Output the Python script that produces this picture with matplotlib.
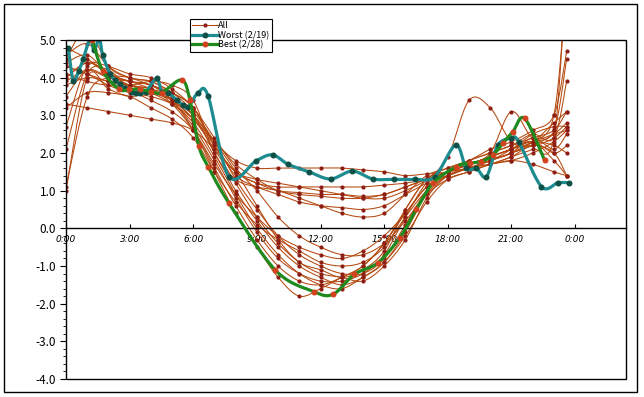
import numpy as np
import matplotlib
matplotlib.use('Agg')
import matplotlib.pyplot as plt
from matplotlib.lines import Line2D
from matplotlib.patches import Rectangle
from matplotlib.ticker import MultipleLocator

plt.rcParams['font.family'] = ['Noto Sans CJK JP', 'DejaVu Sans']
plt.rcParams['axes.unicode_minus'] = False

# shared hour grid for the "All" days
hours = [0, 1, 2, 3, 4, 5, 6, 7, 8, 9, 10, 11, 12, 13, 14, 15, 16, 17, 18, 19, 20, 21, 22, 23, 23.6]

day01 = [4.0, 4.4, 4.1, 3.9, 3.8, 3.5, 3.0, 2.3, 1.8, 1.6, 1.6, 1.6, 1.6, 1.6, 1.55, 1.5, 1.4, 1.45, 1.5, 1.7, 1.9, 2.1, 2.3, 2.2, 2.0]
day02 = [3.3, 3.2, 3.1, 3.0, 2.9, 2.8, 2.6, 2.1, 1.5, 1.2, 1.1, 1.1, 1.1, 1.1, 1.1, 1.15, 1.2, 1.3, 1.4, 1.6, 1.7, 1.8, 1.7, 1.5, 1.4]
day03 = [4.3, 4.1, 3.8, 3.6, 3.5, 3.3, 2.9, 2.3, 1.7, 1.3, 1.0, 0.9, 0.85, 0.8, 0.8, 0.9, 1.1, 1.3, 1.5, 1.6, 1.8, 2.0, 2.3, 3.0, 6.5]
day04 = [4.6, 4.9, 4.3, 4.0, 3.9, 3.6, 3.2, 2.2, 1.5, 1.3, 1.2, 1.1, 1.0, 0.9, 0.8, 0.8, 1.0, 1.3, 1.9, 3.4, 3.2, 2.3, 2.2, 2.4, 2.7]
day05 = [4.8, 4.5, 4.1, 4.0, 3.8, 3.6, 3.2, 2.2, 1.5, 1.2, 1.0, 0.95, 0.9, 0.9, 0.85, 0.9, 1.1, 1.3, 1.5, 1.7, 2.0, 3.1, 2.4, 2.5, 2.6]
day06 = [4.3, 4.1, 3.9, 3.8, 3.9, 3.8, 3.4, 2.0, 1.3, 1.1, 1.0, 0.8, 0.6, 0.4, 0.3, 0.4, 0.9, 1.4, 1.6, 1.8, 2.0, 2.2, 2.4, 2.6, 3.1]
day07 = [3.9, 4.2, 4.0, 3.9, 3.8, 3.4, 2.6, 1.5, 0.4, -0.5, -1.3, -1.8, -1.6, -1.3, -1.0, -0.4, 0.5, 1.3, 1.5, 1.6, 1.8, 2.0, 2.2, 2.5, 2.8]
day08 = [4.4, 4.6, 4.1, 3.9, 3.8, 3.4, 2.7, 1.8, 0.8, -0.1, -0.8, -1.2, -1.4, -1.4, -1.2, -0.7, 0.3, 1.2, 1.5, 1.7, 1.9, 2.1, 2.3, 2.0, 2.2]
day09 = [3.8, 4.0, 3.9, 3.8, 3.7, 3.5, 3.0, 2.0, 1.0, 0.2, -0.5, -1.0, -1.3, -1.5, -1.3, -0.9, -0.1, 0.9, 1.4, 1.6, 1.7, 1.9, 2.1, 2.4, 7.0]
day10 = [4.5, 5.3, 4.3, 4.0, 3.9, 3.6, 3.1, 2.3, 1.3, 0.5, -0.2, -0.7, -1.0, -1.2, -1.2, -0.8, 0.1, 1.0, 1.5, 1.8, 2.0, 2.2, 2.5, 2.4, 3.9]
day11 = [1.0, 4.0, 3.7, 3.5, 3.6, 3.4, 3.0, 2.3, 1.5, 0.6, -0.3, -0.9, -1.1, -1.3, -1.1, -0.6, 0.5, 1.3, 1.6, 1.8, 2.1, 2.3, 2.6, 3.0, 4.7]
day12 = [2.7, 4.3, 4.1, 3.8, 3.7, 3.3, 2.6, 1.6, 0.6, -0.3, -1.0, -1.4, -1.5, -1.3, -1.0, -0.4, 0.4, 1.1, 1.4, 1.6, 1.8, 2.0, 2.4, 2.1, 2.5]
day13 = [3.2, 3.6, 3.6, 3.5, 3.2, 2.9, 2.4, 1.5, 0.7, 0.1, -0.3, -0.6, -0.9, -1.0, -0.9, -0.5, 0.3, 1.0, 1.4, 1.6, 1.8, 2.0, 2.3, 2.6, 4.5]
day14 = [4.0, 4.4, 4.3, 4.1, 4.0, 3.7, 3.2, 2.4, 1.6, 1.0, 0.3, -0.2, -0.5, -0.7, -0.7, -0.4, 0.2, 0.9, 1.3, 1.5, 1.7, 1.8, 2.0, 2.3, 2.6]
day15 = [4.1, 3.9, 3.8, 3.8, 3.6, 3.3, 2.8, 1.9, 0.9, 0.0, -0.7, -1.2, -1.5, -1.6, -1.3, -0.9, -0.2, 0.7, 1.3, 1.5, 1.7, 1.9, 2.2, 2.0, 1.4]
day16 = [1.1, 3.5, 4.0, 3.9, 3.7, 3.4, 2.9, 2.1, 1.2, 0.3, -0.4, -0.9, -1.2, -1.3, -1.4, -1.0, -0.3, 0.8, 1.4, 1.6, 1.8, 2.1, 2.5, 2.7, 2.7]
day17 = [3.5, 4.2, 4.0, 3.8, 3.6, 3.4, 2.9, 2.2, 1.4, 1.1, 0.9, 0.7, 0.6, 0.55, 0.5, 0.6, 0.9, 1.2, 1.5, 1.7, 1.9, 2.1, 2.3, 1.8, 1.4]
day18 = [2.1, 4.1, 4.2, 3.7, 3.4, 3.1, 2.6, 1.7, 0.9, 0.3, -0.2, -0.5, -0.7, -0.8, -0.6, -0.2, 0.4, 1.1, 1.5, 1.7, 1.9, 2.1, 2.3, 2.8, 3.1]

all_days = [day01, day02, day03, day04, day05, day06, day07, day08, day09,
            day10, day11, day12, day13, day14, day15, day16, day17, day18]

worst_h = [0.11, 0.34, 0.60, 0.81, 1.13, 1.33, 1.57, 1.73, 2.07, 2.31, 2.54, 2.78, 3.09, 3.30,
           3.49, 3.77, 4.27, 4.51, 4.82, 5.21, 5.53, 5.76, 6.23, 6.70, 7.68, 8.98, 9.74, 10.47,
           11.46, 12.47, 13.49, 14.47, 15.45, 16.44, 17.38, 18.37, 18.87, 19.35, 19.82, 20.36,
           21.00, 21.34, 22.41, 23.19, 23.71]
worst_v = [4.79, 3.92, 4.18, 4.49, 5.02, 4.73, 5.04, 4.60, 4.11, 3.94, 3.83, 3.72, 3.63, 3.60,
           3.60, 3.63, 3.98, 3.63, 3.60, 3.41, 3.27, 3.21, 3.60, 3.51, 1.37, 1.80, 1.95, 1.70,
           1.50, 1.31, 1.52, 1.31, 1.30, 1.30, 1.37, 2.21, 1.59, 1.59, 1.37, 2.21,
           2.39, 2.30, 1.11, 1.21, 1.21]

best_h = [1.24, 1.73, 2.51, 2.98, 3.49, 3.99, 4.51, 5.45, 5.84, 6.26, 6.70, 7.69, 9.87, 11.68,
          12.59, 13.60, 14.71, 15.73, 16.52, 17.30, 18.40, 19.03, 19.58, 20.13, 20.60, 21.07,
          21.62, 22.56]
best_v = [5.00, 4.18, 3.69, 3.69, 3.69, 3.63, 3.60, 3.94, 3.41, 2.19, 1.64, 0.66, -1.11, -1.68,
          -1.75, -1.22, -0.91, -0.25, 0.51, 1.20, 1.64, 1.73, 1.77, 1.95, 2.26, 2.57,
          2.92, 1.81]

x_ticks = [0, 3, 6, 9, 12, 15, 18, 21, 24]
x_labels = ['0:00', '3:00', '6:00', '9:00', '12:00', '15:00', '18:00', '21:00', '0:00']

brown = '#B4480F'
brown_mk = '#8E1E14'
teal = '#1C8C90'
teal_mk = '#0E5045'
green = '#1E8A1E'
green_mk = '#D2421E'


def smooth(ax, xs, ys, n=16):
    # Excel-like smoothed line (bezier through the points, in screen space)
    pts = ax.transData.transform(np.column_stack([xs, ys]))
    p = np.vstack([pts[0], pts, pts[-1]])
    t = np.linspace(0, 1, n + 1)[1:, None]
    out = [pts[0]]
    for i in range(1, len(p) - 2):
        p0, p1, p2, p3 = p[i - 1], p[i], p[i + 1], p[i + 2]
        c1 = p1 + (p2 - p0) / 6
        c2 = p2 - (p3 - p1) / 6
        seg = (1 - t) ** 3 * p1 + 3 * (1 - t) ** 2 * t * c1 + 3 * (1 - t) * t ** 2 * c2 + t ** 3 * p2
        out.extend(seg)
    out = ax.transData.inverted().transform(np.array(out))
    return out[:, 0], out[:, 1]


fig = plt.figure(figsize=(6.44, 3.97), dpi=100)
ax = fig.add_axes([66 / 644, 1 - 379 / 397, (626 - 66) / 644, (379 - 40) / 397])
ax.set_xlim(0, 1.1)
ax.set_ylim(-4, 5)

for s in ax.spines.values():
    s.set_visible(False)
ax.add_patch(Rectangle((0, 0), 1, 1, transform=ax.transAxes, fill=False,
                       ec='black', lw=1.0, zorder=6, clip_on=False))
ax.spines['bottom'].set_visible(True)
ax.spines['bottom'].set_position(('data', 0))
ax.spines['bottom'].set_linewidth(1.0)

ax.set_xticks([h / 24 for h in x_ticks])
ax.set_xticklabels(x_labels, fontsize=6.5, style='italic', family='DejaVu Sans')
ax.tick_params(axis='x', direction='in', length=3, width=0.8, pad=5)

ax.yaxis.set_major_locator(MultipleLocator(1))
ax.yaxis.set_minor_locator(MultipleLocator(0.2))
ax.yaxis.set_major_formatter(plt.FuncFormatter(lambda v, p: '%.1f' % v))
ax.tick_params(axis='y', which='major', direction='out', length=4, width=0.8, pad=3, labelsize=8.5)
ax.tick_params(axis='y', which='minor', direction='out', length=2, width=0.6)

for vals in all_days:
    xs = [h / 24 for h in hours]
    sx, sy = smooth(ax, xs, vals)
    ax.plot(sx, sy, color=brown, lw=0.75, zorder=2)
    ax.plot(xs, vals, ls='none', marker='o', ms=2.0, mfc=brown_mk, mec=brown_mk, zorder=2)

wx = [h / 24 for h in worst_h]
sx, sy = smooth(ax, wx, worst_v)
ax.plot(sx, sy, color=teal, lw=2.3, zorder=3)
ax.plot(wx, worst_v, ls='none', marker='o', ms=3.3, mfc=teal_mk, mec=teal_mk, zorder=3)

bx = [h / 24 for h in best_h]
sx, sy = smooth(ax, bx, best_v)
ax.plot(sx, sy, color=green, lw=2.3, zorder=4)
ax.plot(bx, best_v, ls='none', marker='o', ms=3.3, mfc=green_mk, mec=green_mk, zorder=4)

handles = [
    Line2D([], [], color=brown, lw=0.75, marker='o', ms=2.0, mfc=brown_mk, mec=brown_mk),
    Line2D([], [], color=teal, lw=2.3, marker='o', ms=3.3, mfc=teal_mk, mec=teal_mk),
    Line2D([], [], color=green, lw=2.3, marker='o', ms=3.3, mfc=green_mk, mec=green_mk),
]
leg = fig.legend(handles, ['All', 'Worst (2/19)', 'Best (2/28)'], loc='upper left',
                 bbox_to_anchor=(190 / 644, 1 - 19 / 397), fontsize=6.5, numpoints=1,
                 handlelength=2.8, handletextpad=0.1, borderpad=0.25, labelspacing=0.05,
                 fancybox=False, framealpha=1, edgecolor='black', borderaxespad=0)
leg.get_frame().set_linewidth(0.8)
leg.set_zorder(10)

# outer chart border
fig.patches.append(Rectangle((4 / 644, 1 - 392 / 397), 633 / 644, 388 / 397,
                             transform=fig.transFigure, fill=False, ec='black', lw=1.0))

fig.savefig('out.png', dpi=100)
